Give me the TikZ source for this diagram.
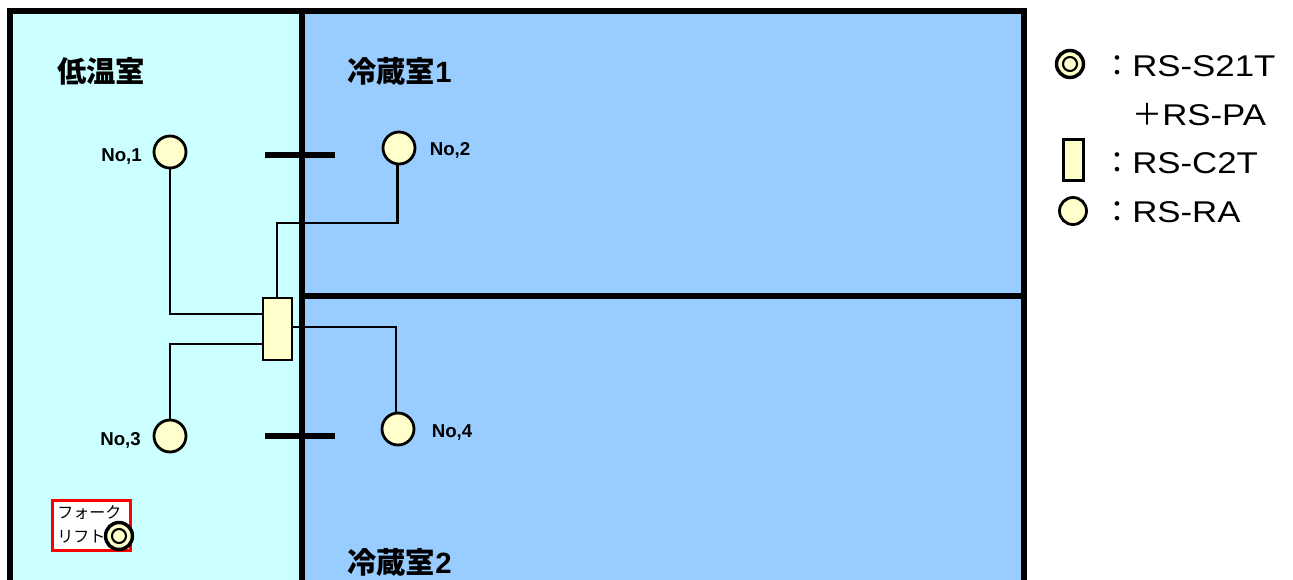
\documentclass[tikz,border=0pt]{standalone}
\usepackage{fontspec}
\setmainfont{Liberation Sans}
\newfontfamily\cjk{Noto Sans CJK JP}
\newfontfamily\keyfont[FakeStretch = 1.16]{Liberation Sans}
\definecolor{coldroom}{HTML}{CCFFFF}
\definecolor{fridge}{HTML}{99CCFF}
\definecolor{unit}{HTML}{FFFFCC}
\tikzset{
	wall/.style = {line width = 3.8pt},
	wire/.style = {line width = 1.9pt},
	sensor/.style = {draw, shape = circle, fill = unit, line width = 2.1pt, minimum size = 32pt * 0.75, inner sep = 0},
	relay/.style = {draw, fill = unit, line width = 2.1pt, minimum width = 29pt * 0.75, minimum height = 62pt * 0.75, inner sep = 0},
	room/.style = {font = \cjk\bfseries\fontsize{22}{22}\selectfont, inner sep = 0, anchor = west},
	tag/.style = {font = \bfseries\fontsize{14}{14}\selectfont},
	legend/.style = {font = \keyfont\fontsize{22.5}{24}\selectfont, anchor = west, inner sep = 0},
	fork/.style = {font = \cjk\fontsize{12}{12}\selectfont, anchor = west, inner sep = 0},
}
\begin{document}
\begin{tikzpicture}[x = 0.75pt, y = -0.75pt]
	\useasboundingbox (0, 0) rectangle (1293, 579);
	\begin{scope}
	\clip (0, 0) rectangle (1293, 579);
	\fill[coldroom] (10, 11) rectangle (302, 600);
	\fill[fridge] (302, 11) rectangle (1024, 600);

	% connectors sit under the boxes
	\node[sensor] (s1) at (170, 152) {};
	\node[sensor] (s2) at (399, 148) {};
	\node[sensor] (s3) at (170, 436) {};
	\node[sensor] (s4) at (398, 429) {};
	\coordinate (c1) at (263, 314);
	\coordinate (c2) at (277, 298);
	\coordinate (c3) at (263, 344);
	\coordinate (c4) at (292, 327);
	\draw[wire] (s1) |- (c1);
	\draw[wire] ([xshift = -1pt]s2.south) |- (277, 223) -- (c2);
	\draw[wire] (s3) |- (c3);
	\draw[wire] ([xshift = -1.5pt]s4.north) |- (c4);

	\draw[wall] (10, 620) -- (10, 11) -- (1024, 11) -- (1024, 620);
	\draw[wall] (302, 11) -- (302, 620);
	\draw[wall] (302, 296) -- (1024, 296);
	\coordinate (d1a) at (265, 155);
	\coordinate (d1b) at (335, 155);
	\coordinate (d2a) at (265, 436);
	\coordinate (d2b) at (335, 436);
	\draw[wall] (d1a) -- (d1b);
	\draw[wall] (d2a) -- (d2b);

	\node[relay] (c2t) at (277.5, 329) {};

	\node[room] (low) at (57, 71) {低温室};
	\node[room] (cold1) at (347, 71) {冷蔵室{\rmfamily\bfseries 1}};
	\node[room] (cold2) at (347, 562) {冷蔵室{\rmfamily\bfseries 2}};

	\foreach \x/\y/\num in {121.5/157/1, 450/150/2, 120.5/440/3, 452/433/4}{
		\node[tag] (n\num) at (\x, \y) {No,\num};}

	% forklift
	\node[draw = red, line width = 1.9pt, fill = white, minimum width = 78pt * 0.75, minimum height = 50pt * 0.75, inner sep = 0] (truck) at (91.5, 525.5) {};
	\node[fork] (forka) at (57, 513) {フォーク};
	\node[fork] (forkb) at (57, 537) {リフト};
	\node[sensor, minimum size = 27pt * 0.75, line width = 2.6pt] (ant) at (119, 536) {};
	\node[sensor, minimum size = 14pt * 0.75, line width = 1.6pt] (antb) at (119, 536) {};

	% legend
	\node[sensor, minimum size = 27pt * 0.75, line width = 2.6pt] (key1) at (1070, 64) {};
	\node[sensor, minimum size = 14pt * 0.75, line width = 1.6pt] (key1b) at (1070, 64) {};
	\node[relay, minimum width = 20pt * 0.75, minimum height = 41pt * 0.75] (key2) at (1073.5, 160) {};
	\node[sensor, minimum size = 27pt * 0.75] (key3) at (1073, 211) {};
	\node[legend] (t1) at (1102, 66) {{\cjk：}RS-S21T};
	\node[legend] (t1b) at (1132, 115) {{\cjk＋}RS-PA};
	\node[legend] (t2) at (1102, 163) {{\cjk：}RS-C2T};
	\node[legend] (t3) at (1102, 212) {{\cjk：}RS-RA};
	\end{scope}
\end{tikzpicture}
\end{document}
